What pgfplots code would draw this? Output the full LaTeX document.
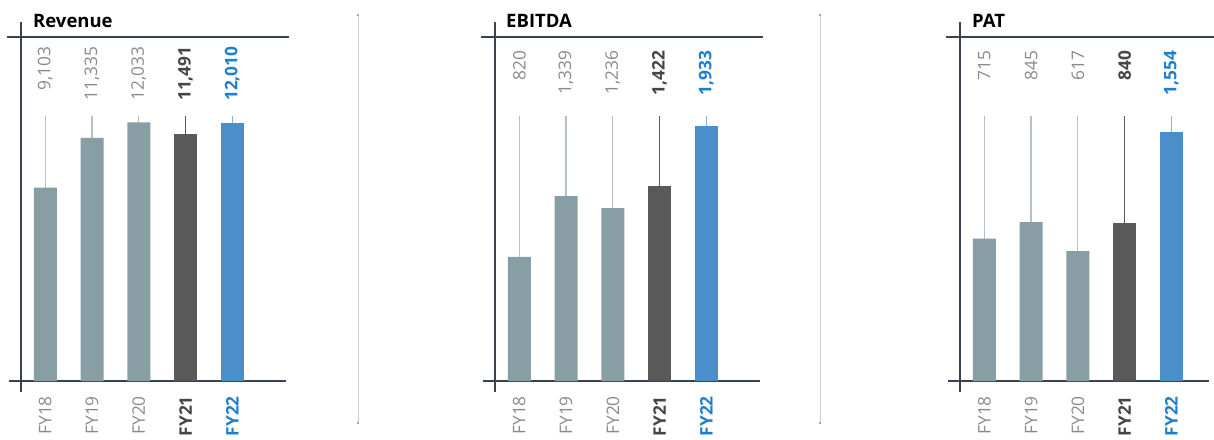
\documentclass[border=0pt]{standalone}
\usepackage{fontspec}
\setmainfont{Open Sans}
\usepackage{pgfplots}
\pgfplotsset{compat=1.18}
\definecolor{barg}{HTML}{889EA5}
\definecolor{bard}{HTML}{595959}
\definecolor{barb}{HTML}{4A8FCC}
\definecolor{stemg}{HTML}{B3C2C8}
\definecolor{stemd}{HTML}{5A5A5A}
\definecolor{stemb}{HTML}{86B4E2}
\definecolor{txtg}{HTML}{8A8A8A}
\definecolor{txtd}{HTML}{454545}
\definecolor{txtb}{HTML}{1F7FCF}
\definecolor{axl}{HTML}{3B4352}
\definecolor{sepc}{HTML}{CFCFCF}
\newcommand{\lblfont}{\fontsize{17.3}{19}\selectfont}
\pgfplotsset{
  panel/.style={
    x=46.75pt, xmin=-0.52, xmax=4.9, ymin=0,
    anchor=south west, clip=false,
    axis line style={draw=none}, major tick length=0pt,
    ytick=\empty, xtick={0,1,2,3,4},
    xticklabels={{\color{txtg}FY18},{\color{txtg}FY19},{\color{txtg}FY20},{\color{txtd}\bfseries FY21},{\color{txtb}\bfseries FY22}},
    xticklabel style={yshift=-15pt, rotate=90, anchor=east, inner sep=0pt, font=\lblfont},
  },
  valstem/.style 2 args={ycomb, no marks, line width=1.2pt, draw=#1,
    nodes near coords, point meta=explicit symbolic,
    every node near coord/.style={yshift=#2, rotate=90, anchor=east, inner sep=0pt, font=\lblfont}},
  gbar/.style={ybar, bar width=23pt, bar shift=0pt, draw=none, fill=#1},
}
\begin{document}
\begin{tikzpicture}
\useasboundingbox (0pt,0pt) rectangle (1214pt,439pt);
% separators
\draw[sepc, line width=1pt] (358pt,16pt) -- (358pt,424pt);
\draw[sepc, line width=1pt] (820pt,16pt) -- (820pt,424pt);
\foreach \sx in {358,820}{
  \fill[gray!70] (\sx pt-1.2pt,422.8pt) rectangle (\sx pt+1.2pt,424.8pt);
  \fill[gray!70] (\sx pt-1.2pt,15pt) rectangle (\sx pt+1.2pt,17pt);
}
% panel frames
\foreach \ax/\tr/\br in {21/289/286, 495/763/760, 960/1214/1209}{
  \draw[axl, line width=1.3pt] (\ax pt,47pt) -- (\ax pt,417pt);
  \draw[axl, line width=1.3pt] (\ax pt-14pt,402pt) -- (\tr pt,402pt);
  \draw[axl, line width=1.3pt] (\ax pt-12pt,58pt) -- (\br pt,58pt);
}
\node[anchor=base west, inner sep=0pt, font=\fontsize{18.5}{20}\selectfont\bfseries] at (33pt,411pt) {Revenue};
\node[anchor=base west, inner sep=0pt, font=\fontsize{18.5}{20}\selectfont\bfseries] at (506pt,411pt) {EBITDA};
\node[anchor=base west, inner sep=0pt, font=\fontsize{18.5}{20}\selectfont\bfseries] at (972pt,411pt) {PAT};

% Revenue
\begin{axis}[panel, at={(21pt,58pt)}, y=0.02221pt, ymax=16100, y filter/.expression={y-396}]
\addplot[valstem={stemg}{70pt}, nodes near coords style={text=txtg}] coordinates {(0,12328) [9,103] (1,12328) [11,335] (2,12328) [12,033]};
\addplot[valstem={stemd}{70pt}, nodes near coords style={text=txtd, font=\lblfont\bfseries}] coordinates {(3,12328) [11,491]};
\addplot[valstem={stemb}{70pt}, nodes near coords style={text=txtb, font=\lblfont\bfseries}] coordinates {(4,12328) [12,010]};
\addplot[gbar=barg] coordinates {(0,9103) (1,11335) (2,12033)};
\addplot[gbar=bard] coordinates {(3,11491)};
\addplot[gbar=barb] coordinates {(4,12010)};
\end{axis}

% EBITDA
\begin{axis}[panel, at={(495pt,58pt)}, y=0.11733pt, ymax=3050, y filter/.expression={y+237}]
\addplot[valstem={stemg}{66pt}, nodes near coords style={text=txtg}] coordinates {(0,2022) [820] (1,2022) [1,339] (2,2022) [1,236]};
\addplot[valstem={stemd}{66pt}, nodes near coords style={text=txtd, font=\lblfont\bfseries}] coordinates {(3,2022) [1,422]};
\addplot[valstem={stemb}{66pt}, nodes near coords style={text=txtb, font=\lblfont\bfseries}] coordinates {(4,2022) [1,933]};
\addplot[gbar=barg] coordinates {(0,820) (1,1339) (2,1236)};
\addplot[gbar=bard] coordinates {(3,1422)};
\addplot[gbar=barb] coordinates {(4,1933)};
\end{axis}

% PAT
\begin{axis}[panel, at={(960pt,58pt)}, y=0.1269pt, ymax=2820, y filter/.expression={y+407}]
\addplot[valstem={stemg}{66pt}, nodes near coords style={text=txtg}] coordinates {(0,1681) [715] (1,1681) [845] (2,1681) [617]};
\addplot[valstem={stemd}{66pt}, nodes near coords style={text=txtd, font=\lblfont\bfseries}] coordinates {(3,1681) [840]};
\addplot[valstem={stemb}{66pt}, nodes near coords style={text=txtb, font=\lblfont\bfseries}] coordinates {(4,1681) [1,554]};
\addplot[gbar=barg] coordinates {(0,715) (1,845) (2,617)};
\addplot[gbar=bard] coordinates {(3,840)};
\addplot[gbar=barb] coordinates {(4,1554)};
\end{axis}
\end{tikzpicture}
\end{document}
